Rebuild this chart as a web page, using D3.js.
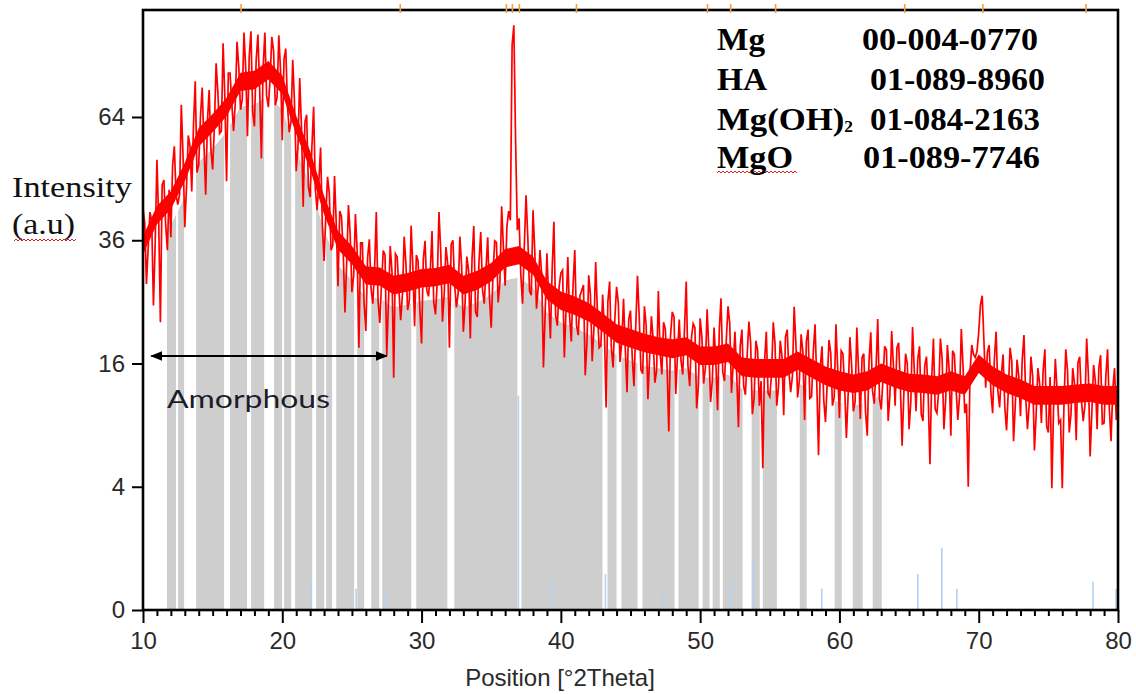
<!DOCTYPE html>
<html>
<head>
<meta charset="utf-8">
<script src="https://cdn.jsdelivr.net/npm/d3@7"></script>
<style>
  body { margin: 0; background: #fff; }
</style>
</head>
<body>
<div id="chart"></div>
<script>
// Measured pattern, counts every 0.125 deg from 10 to 80 deg 2Theta (one row per degree)
const intensity = [
  42.5, 39.4, 28.0, 34.8, 41.7, 39.9, 24.4, 35.4,
  53.4, 40.2, 21.8, 47.6, 48.7, 39.2, 34.1, 46.5,
  36.6, 52.0, 56.6, 45.3, 43.3, 45.4, 67.2, 54.2,
  38.6, 47.3, 59.3, 56.6, 46.1, 61.8, 73.6, 50.4,
  52.1, 64.0, 71.9, 57.2, 45.4, 62.7, 71.2, 55.8,
  51.1, 61.5, 78.7, 70.6, 59.8, 60.4, 84.6, 69.4,
  48.4, 75.9, 75.9, 67.6, 60.4, 67.6, 85.0, 77.8,
  65.9, 68.6, 87.8, 77.1, 59.1, 80.6, 88.2, 65.3,
  61.6, 79.6, 87.2, 71.6, 53.7, 77.4, 87.8, 69.6,
  66.6, 74.5, 86.5, 82.3, 67.1, 69.1, 87.0, 76.6,
  58.1, 79.9, 83.0, 66.9, 60.1, 62.7, 79.7, 68.1,
  50.7, 56.3, 74.5, 61.8, 42.8, 62.7, 64.6, 47.2,
  44.9, 56.4, 66.7, 46.6, 42.1, 48.3, 56.3, 39.2,
  32.1, 41.0, 49.4, 45.7, 34.1, 35.0, 49.6, 39.3,
  27.6, 41.9, 40.8, 33.8, 23.3, 31.9, 43.2, 37.1,
  26.6, 29.4, 41.3, 34.1, 18.1, 35.5, 35.5, 24.7,
  20.5, 32.7, 36.2, 27.2, 24.7, 30.5, 41.7, 25.2,
  21.7, 28.1, 34.0, 33.2, 17.1, 25.2, 34.9, 30.1,
  14.2, 33.4, 32.8, 26.9, 22.1, 26.1, 36.7, 31.6,
  23.7, 25.3, 38.9, 30.8, 21.2, 33.2, 32.1, 23.8,
  18.7, 32.4, 35.9, 26.9, 25.9, 30.1, 37.8, 24.9,
  23.0, 28.3, 41.7, 33.9, 21.9, 26.2, 34.7, 31.6,
  18.1, 35.2, 36.0, 27.9, 24.1, 26.4, 36.7, 31.2,
  20.4, 24.8, 32.9, 30.3, 19.4, 32.7, 38.8, 23.4,
  22.6, 32.1, 37.6, 27.0, 24.7, 30.6, 36.6, 25.7,
  21.0, 29.3, 35.9, 35.6, 24.9, 28.3, 42.9, 34.6,
  27.7, 38.6, 41.9, 40.0, 84.0, 90.0, 58.0, 38.0,
  40.4, 29.6, 24.7, 34.8, 45.3, 36.7, 26.8, 26.1,
  42.1, 34.1, 23.9, 27.5, 34.1, 29.6, 15.5, 23.4,
  33.5, 25.7, 19.4, 30.5, 39.7, 22.8, 21.3, 27.5,
  29.9, 30.4, 16.8, 23.9, 32.8, 22.8, 19.0, 27.6,
  34.1, 21.3, 19.9, 26.0, 26.9, 27.8, 14.5, 18.9,
  29.5, 26.1, 16.3, 20.9, 31.9, 23.3, 18.1, 18.4,
  26.2, 20.7, 10.8, 25.0, 28.4, 18.1, 15.5, 22.3,
  27.5, 24.8, 16.2, 19.0, 25.5, 18.0, 12.5, 22.3,
  23.6, 16.8, 13.2, 21.0, 29.4, 22.7, 15.2, 14.7,
  24.3, 21.3, 11.7, 16.9, 22.7, 19.4, 13.6, 15.1,
  26.8, 17.4, 14.6, 21.8, 20.8, 15.7, 8.4, 19.8,
  23.4, 22.6, 12.3, 17.2, 22.2, 16.4, 14.6, 20.7,
  28.4, 15.7, 13.2, 19.5, 21.6, 21.0, 10.7, 13.3,
  22.4, 19.6, 13.5, 15.4, 23.8, 17.9, 11.4, 13.9,
  21.0, 16.3, 10.5, 20.7, 25.6, 14.9, 13.8, 19.1,
  24.3, 21.6, 12.4, 16.0, 20.4, 14.7, 8.8, 18.3,
  20.7, 13.2, 12.2, 17.1, 21.9, 18.8, 10.1, 11.8,
  19.1, 17.8, 11.0, 13.8, 5.3, 16.2, 20.4, 12.4,
  12.0, 14.6, 21.8, 18.7, 11.0, 13.1, 19.1, 17.0,
  10.0, 19.6, 20.7, 14.9, 12.5, 14.4, 24.2, 18.7,
  11.9, 13.9, 20.0, 17.6, 9.5, 19.0, 20.7, 11.8,
  12.0, 17.6, 21.5, 13.5, 6.3, 15.5, 18.3, 11.6,
  9.3, 13.6, 19.2, 17.4, 11.0, 11.9, 21.5, 15.4,
  9.7, 17.7, 17.3, 13.0, 7.8, 12.2, 19.6, 15.8,
  10.4, 11.4, 21.0, 15.1, 9.6, 16.8, 17.3, 10.3,
  8.0, 16.3, 20.3, 12.7, 11.2, 15.2, 22.3, 11.8,
  10.6, 14.0, 18.3, 17.8, 9.4, 12.2, 20.5, 15.8,
  11.0, 18.1, 18.8, 13.2, 7.1, 12.3, 17.3, 16.0,
  8.6, 11.4, 21.1, 15.1, 10.4, 16.6, 18.3, 10.1,
  9.4, 15.7, 16.9, 12.0, 5.6, 14.1, 19.4, 10.6,
  10.2, 12.6, 19.4, 16.6, 8.6, 11.5, 18.5, 15.3,
  8.0, 17.7, 17.2, 12.9, 9.5, 12.0, 20.8, 15.6,
  10.2, 11.2, 4.0, 14.9, 18.5, 17.2, 16.8, 17.6,
  20.3, 24.5, 26.0, 19.0, 13.0, 17.5, 18.5, 12.5,
  10.2, 16.6, 20.4, 12.7, 10.8, 14.6, 17.2, 10.8,
  8.5, 12.7, 18.1, 16.3, 7.5, 11.0, 16.5, 14.4,
  9.9, 16.6, 19.9, 11.9, 8.6, 11.1, 16.9, 14.4,
  6.7, 10.1, 15.4, 13.5, 9.2, 15.1, 17.9, 8.9,
  8.3, 14.3, 3.9, 10.8, 16.6, 12.8, 9.2, 9.5,
  3.9, 11.4, 17.9, 15.1, 8.3, 10.1, 15.4, 13.5,
  7.6, 16.1, 16.9, 11.6, 9.4, 11.0, 19.4, 14.5,
  6.2, 10.4, 15.8, 13.8, 8.6, 15.4, 17.1, 9.1,
  9.2, 14.3, 17.9, 10.8, 7.5, 12.8, 15.4, 9.5,
  13.5
];
const stepDeg = 0.125;

// solid middle of the noisy band, one value per degree (10..80)
const coreHigh = [
  36.8, 43.0, 46.2, 52.7, 61.2, 64.8, 69.1, 76.0, 76.6, 79.4,
  75.2, 64.3, 55.5, 45.2, 37.8, 34.9, 31.1, 30.9, 29.4, 29.9,
  30.6, 30.8, 31.4, 29.4, 30.3, 31.7, 34.3, 34.9, 32.9, 28.5,
  26.7, 25.9, 24.8, 23.2, 21.5, 20.8, 20.1, 19.6, 19.3, 19.6,
  18.3, 18.3, 18.7, 16.8, 16.6, 16.6, 16.6, 17.6, 16.6, 15.6,
  15.0, 14.6, 15.0, 16.0, 15.3, 14.7, 14.6, 14.4, 15.0, 14.4,
  17.2, 15.6, 14.6, 14.0, 13.2, 13.2, 13.2, 13.4, 13.5, 13.2, 13.2
];
const coreLow = [
  33.3, 39.2, 42.3, 48.4, 56.6, 60.1, 64.2, 70.9, 71.4, 74.1,
  70.1, 59.6, 51.1, 41.2, 34.2, 31.5, 27.9, 27.7, 26.2, 26.7,
  27.4, 27.6, 28.1, 26.2, 27.0, 28.4, 30.9, 31.5, 29.6, 25.4,
  23.7, 22.9, 21.9, 20.4, 18.8, 18.1, 17.5, 17.1, 16.7, 17.1,
  15.8, 15.8, 16.2, 14.4, 14.2, 14.2, 14.2, 15.2, 14.2, 13.3,
  12.7, 12.4, 12.7, 13.7, 13.0, 12.5, 12.4, 12.2, 12.7, 12.2,
  14.8, 13.3, 12.4, 11.8, 11.1, 11.1, 11.1, 11.3, 11.4, 11.1, 11.1
];
// level of the grey fill under the band, one value per degree
const greyTop = [
  30.4, 36.0, 39.0, 44.9, 52.8, 56.1, 60.2, 66.6, 67.2, 69.8,
  65.8, 55.7, 47.5, 38.0, 31.3, 28.6, 25.7, 25.6, 24.1, 24.6,
  25.2, 25.4, 25.9, 24.1, 24.9, 26.2, 28.6, 29.1, 27.4, 23.3,
  21.8, 21.0, 20.0, 18.6, 17.1, 16.4, 15.7, 15.4, 15.1, 15.4,
  14.2, 14.2, 14.6, 12.9, 12.7, 12.7, 12.7, 13.6, 12.7, 11.9,
  11.3, 11.0, 11.3, 12.2, 11.5, 11.1, 11.0, 10.8, 11.3, 10.8,
  14.0, 11.9, 11.0, 10.5, 9.7, 9.7, 9.7, 9.9, 10.1, 9.7, 9.7
];

// grey fill bands (deg 2Theta)
const greyBands = [
  [11.72, 12.37], [12.52, 12.95], [13.81, 15.82], [16.25, 17.47], [17.76, 18.70],
  [19.41, 19.99], [20.13, 20.64], [20.92, 22.15], [22.43, 23.01], [23.15, 23.58],
  [23.87, 25.16], [25.38, 25.88], [26.39, 26.96], [27.18, 29.26], [29.62, 31.85],
  [32.35, 36.88], [37.17, 42.99], [43.35, 44.00], [44.35, 45.50], [45.86, 48.16],
  [48.45, 49.89], [50.18, 50.68], [50.90, 51.41], [51.63, 53.05], [53.70, 54.28],
  [54.50, 55.51], [57.15, 57.65], [59.66, 60.17], [60.96, 61.67], [62.39, 63.04]
];

// reference pattern sticks
const stickPos = [22.07, 25.3, 27.46, 36.95, 39.47, 43.2, 47.37, 52.19, 53.77, 58.73, 65.63, 67.35, 68.43, 78.2, 79.86];
const stickHeight = [0.22, 0.12, 0.12, 12.1, 0.21, 0.34, 0.12, 0.21, 0.69, 0.12, 0.34, 1.02, 0.12, 0.21, 0.12];

// peak markers on the top border
const markerPos = [17.04, 28.47, 36.09, 36.52, 37.02, 41.12, 50.53, 52.19, 55.42, 64.69, 70.3, 77.7];

const yTicks = [0, 4, 16, 36, 64];
const xTicks = [10, 20, 30, 40, 50, 60, 70, 80];
const phases = ["Mg", "HA", "Mg(OH)", "MgO"];
const cards = ["00-004-0770", "01-089-8960", "01-084-2163", "01-089-7746"];
const amorphousRange = [10.6, 27.5];
const amorphousLevel = 17;

const width = 1136, height = 694;
const plotLeft = 143, plotRight = 1118, plotTop = 10, plotBottom = 610;

const svg = d3.select("#chart").append("svg")
  .attr("width", width)
  .attr("height", height);

svg.append("rect").attr("width", width).attr("height", height).attr("fill", "#fff");

const x = d3.scaleLinear().domain([10, 80]).range([plotLeft, plotRight]);
const y = d3.scaleSqrt().domain([0, 64]).range([plotBottom, 117]);

const defs = svg.append("defs");
defs.append("clipPath").attr("id", "plotClip")
  .append("rect")
  .attr("x", plotLeft).attr("y", plotTop)
  .attr("width", plotRight - plotLeft).attr("height", plotBottom - plotTop);

const bandClip = defs.append("clipPath").attr("id", "bandClip");
bandClip.selectAll("rect")
  .data(greyBands)
  .enter()
  .append("rect")
  .attr("x", d => x(d[0]))
  .attr("width", d => x(d[1]) - x(d[0]))
  .attr("y", plotTop)
  .attr("height", plotBottom - plotTop);

// grey fill under the pattern
const greyArea = d3.area()
  .x((d, i) => x(10 + i))
  .y0(y(0))
  .y1(d => y(d));
svg.append("path")
  .datum(greyTop)
  .attr("clip-path", "url(#bandClip)")
  .attr("fill", "#cecece")
  .attr("d", greyArea);

// blue sticks
svg.append("g")
  .selectAll("line")
  .data(stickPos)
  .enter()
  .append("line")
  .attr("x1", d => x(d)).attr("x2", d => x(d))
  .attr("y1", y(0))
  .attr("y2", (d, i) => y(stickHeight[i]))
  .attr("stroke", "#b3d1f3")
  .attr("stroke-width", 1.6);

const plot = svg.append("g").attr("clip-path", "url(#plotClip)");

// solid middle of the noisy scan
const coreArea = d3.area()
  .x((d, i) => x(10 + i))
  .y0((d, i) => y(coreLow[i]))
  .y1(d => y(d));
plot.append("path")
  .datum(coreHigh)
  .attr("fill", "#ff0000")
  .attr("d", coreArea);

// scan trace
const line = d3.line()
  .x((d, i) => x(10 + i * stepDeg))
  .y(d => y(d));
plot.append("path")
  .datum(intensity)
  .attr("fill", "none")
  .attr("stroke", "#ff0000")
  .attr("stroke-width", 1.7)
  .attr("d", line);

// frame
svg.append("rect")
  .attr("x", plotLeft).attr("y", plotTop)
  .attr("width", plotRight - plotLeft).attr("height", plotBottom - plotTop)
  .attr("fill", "none")
  .attr("stroke", "#000")
  .attr("stroke-width", 2.6);

// orange markers on top
svg.append("g")
  .selectAll("line")
  .data(markerPos)
  .enter()
  .append("line")
  .attr("x1", d => x(d)).attr("x2", d => x(d))
  .attr("y1", plotTop - 6).attr("y2", plotTop + 3)
  .attr("stroke", "#f0a040")
  .attr("stroke-width", 1.6);

// axes
const axisFont = "'Liberation Sans', Arial, sans-serif";

const yAxis = svg.append("g")
  .attr("transform", `translate(${plotLeft},0)`)
  .call(d3.axisLeft(y).tickValues(yTicks).tickSize(11).tickSizeOuter(0).tickPadding(7).tickFormat(d3.format("d")));
const xAxis = svg.append("g")
  .attr("transform", `translate(0,${plotBottom})`)
  .call(d3.axisBottom(x).tickValues(xTicks).tickSize(13).tickSizeOuter(0).tickPadding(9).tickFormat(d3.format("d")));
const xMinor = svg.append("g")
  .attr("transform", `translate(0,${plotBottom})`)
  .call(d3.axisBottom(x).tickValues(d3.range(11, 80).filter(v => v % 10 !== 0)).tickSize(6).tickSizeOuter(0).tickFormat(""));

[yAxis, xAxis, xMinor].forEach(g => {
  g.select(".domain").remove();
  g.selectAll("line").attr("stroke", "#000").attr("stroke-width", 2);
  g.selectAll("text")
    .attr("font-family", axisFont)
    .attr("font-size", 24)
    .attr("fill", "#2a2a2a");
});

svg.append("text")
  .attr("x", 560).attr("y", 686)
  .attr("text-anchor", "middle")
  .attr("font-family", axisFont)
  .attr("font-size", 24)
  .attr("fill", "#2a2a2a")
  .text("Position [°2Theta]");

// Word-style annotations
const serif = "'Liberation Serif', 'Times New Roman', serif";
svg.append("text")
  .attr("x", 12).attr("y", 197)
  .attr("font-family", serif).attr("font-size", 30)
  .attr("textLength", 120).attr("lengthAdjust", "spacingAndGlyphs")
  .attr("fill", "#111")
  .text("Intensity");
svg.append("text")
  .attr("x", 12).attr("y", 234)
  .attr("font-family", serif).attr("font-size", 30)
  .attr("textLength", 63).attr("lengthAdjust", "spacingAndGlyphs")
  .attr("fill", "#111")
  .text("(a.u)");

function squiggle(x0, x1, yy) {
  const p = d3.path();
  p.moveTo(x0, yy);
  let up = true;
  for (let xx = x0 + 2; xx <= x1; xx += 2) {
    p.lineTo(xx, up ? yy - 2 : yy);
    up = !up;
  }
  return p.toString();
}
svg.append("path").attr("d", squiggle(14, 76, 241))
  .attr("fill", "none").attr("stroke", "#e02020").attr("stroke-width", 1);
svg.append("path").attr("d", squiggle(717, 797, 173))
  .attr("fill", "none").attr("stroke", "#e02020").attr("stroke-width", 1);

// legend of reference cards
const legendY = [50, 90, 130, 168];
const phaseLen = [48, 50, 136, 76];
const cardX = [862, 870, 870, 863];
const cardLen = [176, 175, 170, 177];
phases.forEach((p, i) => {
  const t = svg.append("text")
    .attr("x", 717).attr("y", legendY[i])
    .attr("font-family", serif).attr("font-weight", "bold")
    .attr("font-size", 32).attr("fill", "#000")
    .attr("textLength", phaseLen[i]).attr("lengthAdjust", "spacingAndGlyphs")
    .text(p);
  if (p === "Mg(OH)") {
    t.append("tspan").attr("font-size", 16).attr("dy", 2).text("2");
  }
  svg.append("text")
    .attr("x", cardX[i]).attr("y", legendY[i])
    .attr("font-family", serif).attr("font-weight", "bold")
    .attr("font-size", 32).attr("fill", "#000")
    .attr("textLength", cardLen[i]).attr("lengthAdjust", "spacingAndGlyphs")
    .text(cards[i]);
});

// amorphous arrow
defs.append("marker")
  .attr("id", "head")
  .attr("viewBox", "0 0 10 10")
  .attr("refX", 9).attr("refY", 5)
  .attr("markerWidth", 6).attr("markerHeight", 6)
  .attr("orient", "auto-start-reverse")
  .append("path")
  .attr("d", "M0,1 L10,5 L0,9 Z")
  .attr("fill", "#000");

svg.append("line")
  .attr("x1", x(amorphousRange[0])).attr("x2", x(amorphousRange[1]))
  .attr("y1", y(amorphousLevel)).attr("y2", y(amorphousLevel))
  .attr("stroke", "#000").attr("stroke-width", 2)
  .attr("marker-start", "url(#head)")
  .attr("marker-end", "url(#head)");

svg.append("text")
  .attr("x", 167).attr("y", 408)
  .attr("font-family", "Lato, 'Open Sans', sans-serif")
  .attr("font-size", 25)
  .attr("textLength", 163).attr("lengthAdjust", "spacingAndGlyphs")
  .attr("fill", "#1c1c28")
  .text("Amorphous");
</script>
</body>
</html>
